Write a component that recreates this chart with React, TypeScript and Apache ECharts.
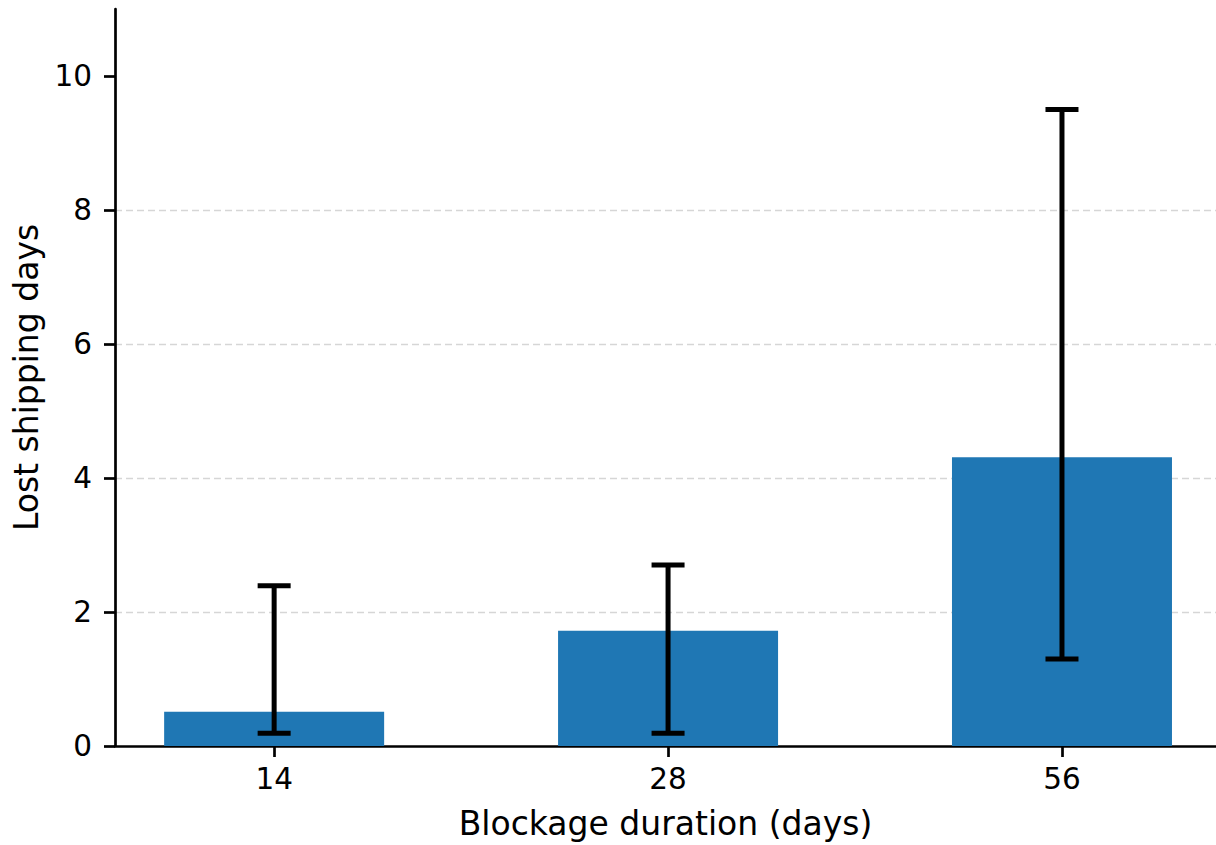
import React, { useEffect, useRef } from "react";
import * as echarts from "echarts";

const categories = ["14", "28", "56"];
const positions = [0, 1, 2];
const values = [0.51, 1.72, 4.31];
const errLow = [0.19, 0.19, 1.3];
const errHigh = [2.39, 2.7, 9.5];
const yTicks = [0, 2, 4, 6, 8, 10];

const FONT = "DejaVu Sans";

export default function App() {
  const ref = useRef<HTMLDivElement>(null);
  useEffect(() => {
    if (!ref.current) return;
    const chart = echarts.init(ref.current, null, { renderer: "svg" });
    const errData = positions.map((p, i) => [p, errLow[i], errHigh[i]]);
    chart.setOption({
      animation: false,
      backgroundColor: "#ffffff",
      grid: { left: 115, top: 9, right: 0, bottom: 99, containLabel: false },
      xAxis: {
        type: "value",
        min: -0.404,
        max: 2.391,
        name: "Blockage duration (days)",
        nameLocation: "middle",
        nameGap: 61,
        nameTextStyle: { fontFamily: FONT, fontSize: 33, color: "#000" },
        axisLine: { show: true, onZero: false, lineStyle: { color: "#000", width: 2.7 } },
        axisTick: { show: true, length: 11, lineStyle: { color: "#000", width: 2.7 }, customValues: positions },
        axisLabel: {
          show: true,
          margin: 18,
          fontFamily: FONT,
          fontSize: 29.5,
          color: "#000",
          customValues: positions,
          formatter: (v: number) => categories[Math.round(v)] ?? "",
        },
        splitLine: { show: false },
      },
      yAxis: {
        type: "value",
        min: 0,
        max: 11,
        interval: 2,
        name: "Lost shipping days",
        nameLocation: "middle",
        nameGap: 72,
        nameTextStyle: { fontFamily: FONT, fontSize: 33, color: "#000" },
        axisLine: { show: true, onZero: false, lineStyle: { color: "#000", width: 2.7 } },
        axisTick: { show: true, length: 11, lineStyle: { color: "#000", width: 2.7 }, customValues: yTicks },
        axisLabel: {
          show: true,
          margin: 23,
          fontFamily: FONT,
          fontSize: 29.5,
          color: "#000",
          customValues: yTicks,
        },
        splitLine: {
          show: true,
          showMinLine: false,
          showMaxLine: false,
          lineStyle: { color: "#d6d6d6", width: 1.3, type: [7, 4] },
        },
      },
      series: [
        {
          type: "bar",
          data: positions.map((p, i) => [p, values[i]]),
          barWidth: 220,
          itemStyle: { color: "#1f77b4" },
          z: 2,
        },
        {
          type: "custom",
          data: errData,
          z: 5,
          renderItem: (params: any, api: any) => {
            const x = api.value(0);
            const lo = api.coord([x, api.value(1)]);
            const hi = api.coord([x, api.value(2)]);
            const half = 16.5;
            const style = { stroke: "#000", lineWidth: 5 };
            return {
              type: "group",
              children: [
                { type: "line", shape: { x1: lo[0], y1: lo[1], x2: hi[0], y2: hi[1] }, style },
                { type: "line", shape: { x1: hi[0] - half, y1: hi[1], x2: hi[0] + half, y2: hi[1] }, style },
                { type: "line", shape: { x1: lo[0] - half, y1: lo[1], x2: lo[0] + half, y2: lo[1] }, style },
              ],
            };
          },
        },
      ],
    });
    return () => chart.dispose();
  }, []);
  return (
    <div
      ref={ref}
      style={{ position: "absolute", left: 0, top: 0, width: 1216, height: 845, background: "#fff" }}
    />
  );
}
